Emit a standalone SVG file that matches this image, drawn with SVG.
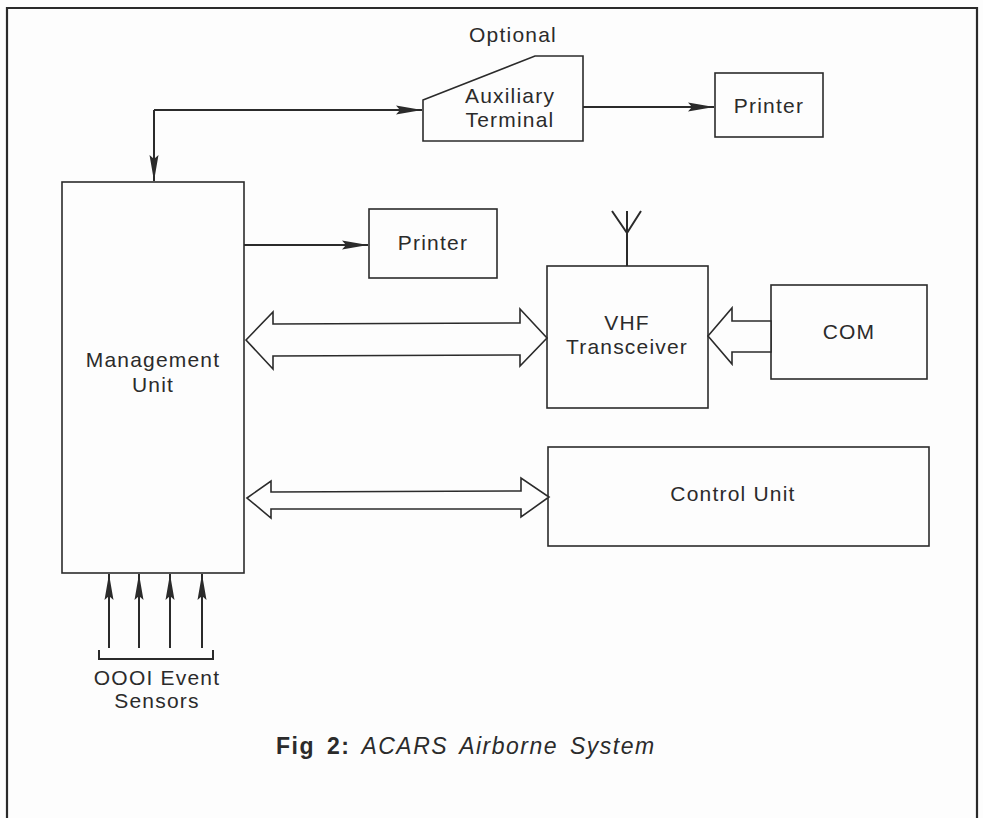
<svg xmlns="http://www.w3.org/2000/svg" width="983" height="818" viewBox="0 0 983 818">
<style>
.box{fill:none;stroke:#2b2b2b;stroke-width:1.6}
.ln{fill:none;stroke:#2b2b2b;stroke-width:2}
.fat{fill:#fdfdfd;stroke:#2b2b2b;stroke-width:1.6;stroke-linejoin:miter}
text{font-family:"Liberation Sans",Arial,sans-serif;font-size:21px;fill:#2b2b2b;letter-spacing:1.2px;text-anchor:middle}
.cap{font-size:23px;text-anchor:start;letter-spacing:1.5px;word-spacing:4px}
</style>
<defs>
<marker id="ah" markerUnits="userSpaceOnUse" markerWidth="28" markerHeight="10" refX="26" refY="5" orient="auto">
<path d="M0,0.5 L26,5 L0,9.5 L4,5 z" fill="#2b2b2b"/>
</marker>
</defs>
<rect width="983" height="818" fill="#fdfdfd"/>
<path d="M7,830 L7,8 L977,8 L977,830" fill="none" stroke="#2b2b2b" stroke-width="2.2"/>

<g id="management-unit">
<rect class="box" x="62" y="182" width="182" height="391"/>
<text x="153" y="367">Management</text>
<text x="153" y="392">Unit</text>
</g>
<g id="auxiliary-terminal">
<path class="box" d="M423,100 L535,56 L583,56 L583,141 L423,141 Z"/>
<text x="513" y="42">Optional</text>
<text x="510" y="103">Auxiliary</text>
<text x="510" y="127">Terminal</text>
</g>
<g id="printer-top">
<rect class="box" x="715" y="73" width="108" height="64"/>
<text x="769" y="113">Printer</text>
</g>
<g id="printer-mid">
<rect class="box" x="369" y="209" width="128" height="69"/>
<text x="433" y="250">Printer</text>
</g>
<g id="vhf-transceiver">
<rect class="box" x="547" y="266" width="161" height="142"/>
<path class="ln" d="M627,266 L627,211 M627,233 L612,211 M627,233 L641,211"/>
<text x="627" y="330">VHF</text>
<text x="627" y="354">Transceiver</text>
</g>
<g id="com">
<rect class="box" x="771" y="285" width="156" height="94"/>
<text x="849" y="339">COM</text>
</g>
<g id="control-unit">
<rect class="box" x="548" y="447" width="381" height="99"/>
<text x="733" y="501">Control Unit</text>
</g>
<g id="sensors">
<path class="ln" d="M99,650 L99,659 L213,659 L213,650"/>
<text x="157" y="685">OOOI Event</text>
<text x="157" y="708">Sensors</text>
</g>

<g id="connectors">
<path class="ln" d="M154,110 L422,110" marker-end="url(#ah)"/>
<path class="ln" d="M154,110 L154,181" marker-end="url(#ah)"/>
<path class="ln" d="M583,107 L714,107" marker-end="url(#ah)"/>
<path class="ln" d="M244,245 L368,245" marker-end="url(#ah)"/>
<path class="fat" d="M246,340 L273,312 L273,324 L520,323 L520,309 L547,338 L520,366 L520,355 L273,356 L273,369 Z"/>
<path class="fat" d="M247,498 L271,481 L271,492 L521,491 L521,478 L549,497 L521,517 L521,509 L271,509 L271,518 Z"/>
<path class="fat" d="M708,336 L732,308 L732,321 L771,321 L771,352 L732,352 L732,364 Z"/>
<path class="ln" d="M109,648 L109,574" marker-end="url(#ah)"/>
<path class="ln" d="M139,648 L139,574" marker-end="url(#ah)"/>
<path class="ln" d="M170,648 L170,574" marker-end="url(#ah)"/>
<path class="ln" d="M202,648 L202,574" marker-end="url(#ah)"/>
</g>

<text class="cap" x="276" y="754"><tspan font-weight="bold">Fig 2:</tspan><tspan font-style="italic"> ACARS Airborne System</tspan></text>
</svg>
